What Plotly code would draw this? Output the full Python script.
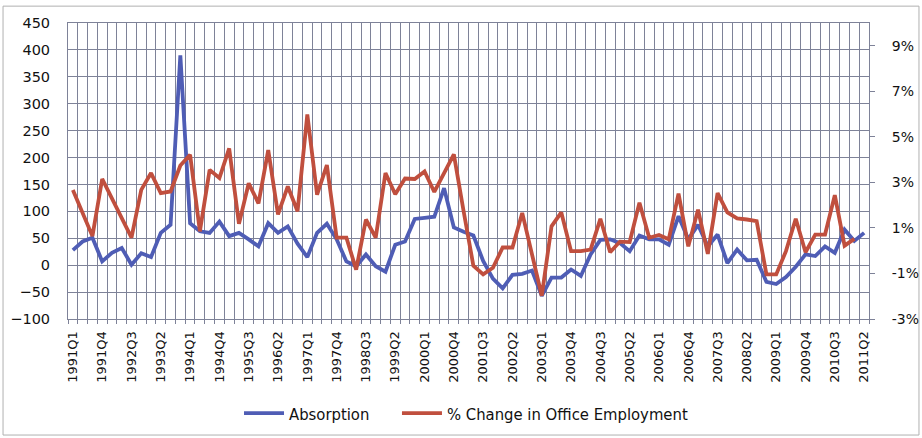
import plotly.graph_objects as go

years = list(range(1991, 2012))
quarters = [f"{y}Q{q}" for y in years for q in range(1, 5)][:82]  # 1991Q1 .. 2011Q2

absorption = [28, 44, 51, 7, 23, 32, 1, 22, 15, 60, 75, 390,
              78, 63, 60, 81, 54, 60, 48, 35, 78, 60, 72, 40,
              15, 60, 77, 48, 7, -2, 20, -2, -12, 38, 44, 86,
              88, 90, 143, 70, 62, 55, 8, -25, -43, -18, -16, -10,
              -57, -23, -23, -8, -20, 20, 47, 48, 41, 26, 55, 48,
              48, 38, 91, 48, 75, 35, 57, 4, 29, 9, 10, -31,
              -35, -22, -3, 20, 17, 35, 23, 66, 45, 60]

employment_pct = [2.67, 1.66, 0.64, 3.15, 2.30, 1.44, 0.57, 2.67, 3.41, 2.53, 2.60, 3.74,
                  4.21, 0.85, 3.55, 3.19, 4.49, 1.18, 2.96, 2.08, 4.42, 1.59, 2.82, 1.73,
                  5.98, 2.46, 3.76, 0.57, 0.57, -0.83, 1.37, 0.57, 3.41, 2.48, 3.17, 3.15,
                  3.48, 2.58, 3.43, 4.23, 1.73, -0.66, -1.04, -0.75, 0.14, 0.14, 1.66, -0.16,
                  -1.98, 1.07, 1.68, -0.02, -0.02, 0.05, 1.40, -0.07, 0.40, 0.38, 2.11, 0.57,
                  0.69, 0.50, 2.51, 0.19, 1.80, -0.14, 2.53, 1.68, 1.42, 1.37, 1.30, -1.04,
                  -1.04, -0.02, 1.40, -0.07, 0.71, 0.71, 2.44, 0.22, 0.52, None]

left_ticks = list(range(-100, 451, 50))
right_ticks = [-3, -1, 1, 3, 5, 7, 9]
right_ticktext = [f"{v}%" for v in right_ticks]
x_ticktext = [q if i % 3 == 0 else "" for i, q in enumerate(quarters)]

GRID = "#7e8298"
BLUE = "#4f5db5"
RED = "#c04f3e"
TXT = "#111111"
LEG_FONT = dict(family="DejaVu Sans Condensed, Liberation Sans Narrow", size=16.5, color=TXT)

fig = go.Figure()
fig.add_trace(go.Scatter(x=quarters, y=absorption, name="Absorption", mode="lines",
                         line=dict(color=BLUE, width=3.8), yaxis="y", legend="legend"))
fig.add_trace(go.Scatter(x=quarters, y=employment_pct, name="% Change in Office Employment",
                         mode="lines", line=dict(color=RED, width=3.8), yaxis="y2",
                         legend="legend2"))

fig.update_layout(
    width=922, height=438,
    margin=dict(l=68, r=53, t=23, b=119, autoexpand=False),
    paper_bgcolor="white", plot_bgcolor="white",
    font=dict(family="DejaVu Sans", color=TXT),
    showlegend=True,
    legend=dict(orientation="h", x=0.2135, xanchor="left", y=-0.26, yanchor="top",
                font=LEG_FONT, itemwidth=40),
    legend2=dict(orientation="h", x=0.4107, xanchor="left", y=-0.26, yanchor="top",
                 font=LEG_FONT, itemwidth=40),
    xaxis=dict(type="category", categoryorder="array", categoryarray=quarters,
               tickmode="array", tickvals=quarters, ticktext=x_ticktext,
               tickson="boundaries", tickangle=-90, ticks="outside", ticklen=4,
               tickcolor=GRID, showgrid=True, gridcolor=GRID, gridwidth=1,
               showline=True, linecolor=GRID, mirror=True, ticklabelstandoff=6,
               automargin=False,
               tickfont=dict(family="DejaVu Sans", size=13, color=TXT),
               range=[-0.5, 81.5]),
    yaxis=dict(range=[-100, 450], tickmode="array", tickvals=left_ticks,
               showgrid=True, gridcolor=GRID, gridwidth=1, zeroline=False,
               showline=True, linecolor=GRID, mirror=True, ticks="",
               ticklabelstandoff=14, automargin=False,
               tickfont=dict(family="DejaVu Sans", size=14.5, color=TXT)),
    yaxis2=dict(range=[-3, 10], overlaying="y", side="right", tickmode="array",
                tickvals=right_ticks, ticktext=right_ticktext, showgrid=False,
                zeroline=False, ticks="outside", ticklen=5, tickcolor=GRID,
                ticklabelstandoff=14, automargin=False,
                tickfont=dict(family="DejaVu Sans", size=14, color=TXT)),
    shapes=[dict(type="rect", xref="paper", yref="paper",
                 x0=-0.0811, x1=1.0624, y0=-0.392, y1=1.057,
                 line=dict(color="#b0b0b0", width=1), fillcolor="rgba(0,0,0,0)", layer="below")],
)

fig.write_html("out.html", config={"displayModeBar": False},
               post_script="document.body.style.margin='0';document.body.style.overflow='hidden';")
